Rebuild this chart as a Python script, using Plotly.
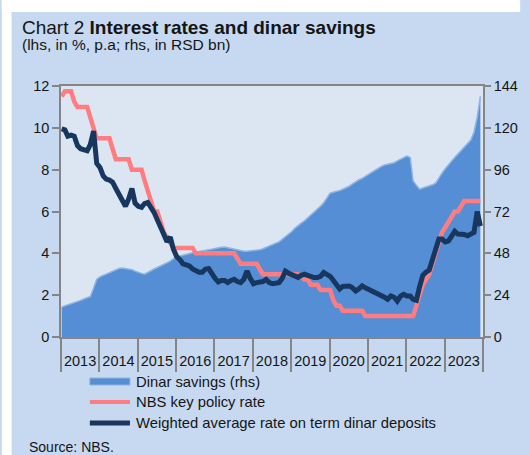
import pandas as pd
import plotly.graph_objects as go

# Monthly observations, Jan 2013 - Dec 2023
months = pd.date_range("2013-01-01", "2023-12-01", freq="MS")

# Dinar savings, RSD bn (rhs)
dinar_savings = [
    17.2, 17.8, 18.5, 19.0, 19.6, 20.3, 21.0, 21.8, 22.5, 23.2, 28.0, 33.0,
    34.5, 35.3, 36.2, 37.0, 37.8, 38.5, 39.3, 39.6, 39.4, 39.0, 38.6, 37.8,
    37.0, 36.5, 36.0, 36.8, 38.0, 39.0, 39.8, 40.8, 41.5, 42.3, 43.5, 45.0,
    46.0, 46.5, 47.0, 47.5, 48.0, 48.5, 48.8, 49.0, 49.2, 49.5, 50.0, 50.3,
    50.8, 51.2, 51.5, 51.6, 51.2, 50.6, 50.2, 49.8, 49.3, 49.2, 49.2, 49.3,
    49.4, 49.6, 50.0, 50.6, 51.3, 52.0, 52.8, 53.6, 54.6, 56.0, 57.5, 58.6,
    60.5, 62.5, 64.0, 65.3, 66.6, 68.2, 69.8, 71.4, 73.2, 75.0, 77.0, 79.5,
    82.5, 83.0, 83.3, 84.0, 84.8, 85.6, 86.5, 87.8, 89.2, 90.2, 91.0, 92.2,
    93.2, 94.5, 95.8, 96.8, 97.8, 98.7, 99.2, 99.6, 100.0, 101.0, 102.0, 103.2,
    103.8, 103.0, 89.5, 87.0, 84.8, 85.5, 86.0, 86.5, 87.3, 88.3, 91.5, 94.0,
    96.5, 98.5, 100.8, 103.0, 105.0, 107.0, 109.0, 110.8, 113.0, 117.5, 126.0, 138.0,
]

# NBS key policy rate, % (lhs)
policy_rate = [
    11.5, 11.75, 11.75, 11.75, 11.25, 11.0, 11.0, 11.0, 11.0, 10.5, 10.0, 9.5,
    9.5, 9.5, 9.5, 9.5, 9.0, 8.5, 8.5, 8.5, 8.5, 8.5, 8.0, 8.0,
    8.0, 8.0, 7.5, 7.0, 6.5, 6.0, 6.0, 5.5, 5.0, 4.75, 4.5, 4.25,
    4.25, 4.25, 4.25, 4.25, 4.25, 4.25, 4.0, 4.0, 4.0, 4.0, 4.0, 4.0,
    4.0, 4.0, 4.0, 4.0, 4.0, 4.0, 4.0, 3.75, 3.5, 3.5, 3.5, 3.5,
    3.5, 3.5, 3.25, 3.0, 3.0, 3.0, 3.0, 3.0, 3.0, 3.0, 3.0, 3.0,
    3.0, 3.0, 3.0, 2.9, 2.75, 2.75, 2.5, 2.5, 2.5, 2.25, 2.25, 2.25,
    2.25, 1.75, 1.5, 1.5, 1.25, 1.25, 1.25, 1.25, 1.25, 1.25, 1.25, 1.0,
    1.0, 1.0, 1.0, 1.0, 1.0, 1.0, 1.0, 1.0, 1.0, 1.0, 1.0, 1.0,
    1.0, 1.0, 1.0, 1.5, 2.0, 2.5, 2.75, 3.0, 3.5, 4.0, 4.5, 5.0,
    5.25, 5.5, 5.75, 6.0, 6.0, 6.25, 6.5, 6.5, 6.5, 6.5, 6.5, 6.5,
]

# Weighted average rate on term dinar deposits, % (lhs)
deposit_rate = [
    9.95, 9.9, 9.6, 9.65, 9.6, 9.15, 9.0, 8.98, 8.9, 9.2, 9.85, 8.3,
    8.1, 7.7, 7.55, 7.5, 7.4, 7.1, 6.8, 6.5, 6.25, 6.6, 7.1, 6.4,
    6.25, 6.2, 6.38, 6.43, 6.2, 5.95, 5.6, 5.3, 4.9, 4.55, 4.78, 4.2,
    3.85, 3.7, 3.5, 3.45, 3.4, 3.25, 3.15, 3.1, 3.1, 3.25, 3.27, 3.0,
    2.8, 2.63, 2.7, 2.7, 2.6, 2.7, 2.76, 2.65, 2.6, 2.75, 3.16, 2.8,
    2.55, 2.6, 2.6, 2.65, 2.75, 2.6, 2.55, 2.6, 2.6, 2.8, 3.15, 3.05,
    3.0, 2.95, 2.85, 2.95, 3.0, 2.95, 2.88, 2.84, 2.84, 2.9, 3.08, 3.0,
    2.9, 2.7, 2.45, 2.3, 2.42, 2.45, 2.44, 2.35, 2.2, 2.3, 2.44, 2.35,
    2.28, 2.2, 2.12, 2.05, 1.96, 1.9, 1.8, 1.96, 1.9, 1.72, 1.95, 2.04,
    1.96, 1.96, 1.8, 1.75, 2.4, 2.95, 3.1, 3.2, 3.7, 4.3, 4.68, 4.68,
    4.55, 4.6, 4.8, 5.05, 4.92, 4.92, 4.9, 4.84, 4.92, 5.0, 6.0, 5.3,
]

years = list(range(2013, 2024))
year_labels = [str(y) for y in years]

series_names = [
    "Dinar savings (rhs)",
    "NBS key policy rate",
    "Weighted average rate on term dinar deposits",
]

# Colours
PANEL = "#c6d9f0"
PLOT_BG = "#dce6f2"
AREA = "#558ed5"
AREA_EDGE = "#8db4e2"
PINK = "#ff7c80"
NAVY = "#17375e"
AXIS = "#858585"
TEXT = "#151515"
FONT = "Liberation Sans, Arial, sans-serif"

# Page geometry (px)
W, H = 530, 455
ML, MR, MT, MB = 60.5, 38, 86, 118
PW, PH = W - ML - MR, H - MT - MB


def px_x(px):
    return (px - ML) / PW


def px_y(py):
    return (H - MB - py) / PH


# Points sit a few days into each month
x = months + pd.Timedelta(days=6)

fig = go.Figure()

fig.add_trace(go.Scatter(
    x=x, y=dinar_savings, name=series_names[0],
    mode="lines", fill="tozeroy", fillcolor=AREA,
    line=dict(color=AREA_EDGE, width=1.5),
    yaxis="y", showlegend=False,
))
fig.add_trace(go.Scatter(
    x=x, y=policy_rate, name=series_names[1],
    mode="lines", line=dict(color=PINK, width=4.5),
    yaxis="y2", showlegend=False,
))
fig.add_trace(go.Scatter(
    x=x, y=deposit_rate, name=series_names[2],
    mode="lines", line=dict(color=NAVY, width=5),
    yaxis="y2", showlegend=False,
))

tick_font = dict(family=FONT, size=14.5, color=TEXT)

fig.update_layout(
    width=W, height=H,
    margin=dict(l=ML, r=MR, t=MT, b=MB, pad=0),
    paper_bgcolor=PANEL,
    plot_bgcolor=PLOT_BG,
    showlegend=False,
    xaxis=dict(
        type="date",
        range=[pd.Timestamp("2013-01-01"), pd.Timestamp("2024-01-01")],
        tickvals=[pd.Timestamp(f"{y}-07-02") for y in years],
        ticktext=year_labels,
        ticks="outside", ticklen=10, tickcolor="rgba(0,0,0,0)",
        tickfont=tick_font,
        showgrid=False, zeroline=False,
        showline=True, linecolor=AXIS, linewidth=1.5, mirror=True,
        minor=dict(
            tickvals=[pd.Timestamp(f"{y}-01-01") for y in years + [2024]],
            ticks="outside", ticklen=33, tickcolor=AXIS, tickwidth=1.5,
            showgrid=False,
        ),
    ),
    # savings axis (right) hosts the area so it stays beneath the rate lines
    yaxis=dict(
        side="right", range=[0, 144], tickvals=[0, 24, 48, 72, 96, 120, 144],
        ticks="outside", ticklen=6, tickcolor=AXIS, tickwidth=1.5,
        tickfont=tick_font, showgrid=False, zeroline=False,
        showline=True, linecolor=AXIS, linewidth=1.5,
    ),
    yaxis2=dict(
        side="left", overlaying="y", range=[0, 12], tickvals=[0, 2, 4, 6, 8, 10, 12],
        ticks="outside", ticklen=7, tickcolor=AXIS, tickwidth=1.5,
        tickfont=tick_font, showgrid=False, zeroline=False,
        showline=True, linecolor=AXIS, linewidth=1.5,
    ),
)

shapes = [
    # white page edges above and to the left of the chart panel
    dict(type="rect", xref="paper", yref="paper",
         x0=px_x(0), x1=px_x(W), y0=px_y(12), y1=px_y(0),
         fillcolor="white", line=dict(width=0), layer="below"),
    dict(type="rect", xref="paper", yref="paper",
         x0=px_x(0), x1=px_x(10), y0=px_y(H), y1=px_y(0),
         fillcolor="white", line=dict(width=0), layer="below"),
]

annotations = [
    dict(text="Chart 2 <b>Interest rates and dinar savings</b>",
         xref="paper", yref="paper", x=px_x(19), y=px_y(27),
         xanchor="left", yanchor="middle", showarrow=False,
         font=dict(family=FONT, size=19, color=TEXT)),
    dict(text="(lhs, in %, p.a; rhs, in RSD bn)",
         xref="paper", yref="paper", x=px_x(19), y=px_y(44.5),
         xanchor="left", yanchor="middle", showarrow=False,
         font=dict(family=FONT, size=15.5, color=TEXT)),
    dict(text="Source: NBS.",
         xref="paper", yref="paper", x=px_x(26), y=px_y(447),
         xanchor="left", yanchor="middle", showarrow=False,
         font=dict(family=FONT, size=14, color=TEXT)),
]

# Legend drawn as swatches with labels below the axis
legend_rows = [381.5, 402, 423]
sx0, sx1, tx = 90, 131, 135
shapes.append(dict(type="rect", xref="paper", yref="paper",
                   x0=px_x(sx0), x1=px_x(sx1),
                   y0=px_y(legend_rows[0] + 3.5), y1=px_y(legend_rows[0] - 3.5),
                   fillcolor=AREA, line=dict(color=AREA_EDGE, width=1)))
shapes.append(dict(type="line", xref="paper", yref="paper",
                   x0=px_x(sx0), x1=px_x(sx1),
                   y0=px_y(legend_rows[1]), y1=px_y(legend_rows[1]),
                   line=dict(color=PINK, width=4)))
shapes.append(dict(type="line", xref="paper", yref="paper",
                   x0=px_x(sx0), x1=px_x(sx1),
                   y0=px_y(legend_rows[2]), y1=px_y(legend_rows[2]),
                   line=dict(color=NAVY, width=5)))
for name, row in zip(series_names, legend_rows):
    annotations.append(dict(text=name, xref="paper", yref="paper",
                            x=px_x(tx), y=px_y(row), xanchor="left", yanchor="middle",
                            showarrow=False,
                            font=dict(family=FONT, size=14.8, color=TEXT)))

fig.update_layout(shapes=shapes, annotations=annotations)

fig.write_html("out.html")
